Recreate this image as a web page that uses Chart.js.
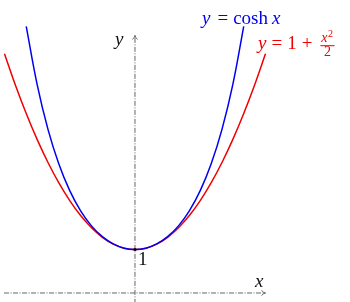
<!DOCTYPE html>
<html>
<head>
<meta charset="utf-8">
<script src="https://cdn.jsdelivr.net/npm/chart.js@4"></script>
<style>
  html, body { margin: 0; padding: 0; background: #fff; }
  #wrap { width: 350px; height: 302px; }
</style>
</head>
<body>
<div id="wrap"><canvas id="chart-cosh"></canvas></div>
<script>
  // x samples and values
  const xsCosh = [-2.5, -2.25, -2, -1.75, -1.5, -1.25, -1, -0.75, -0.5, -0.25, 0,
                  0.25, 0.5, 0.75, 1, 1.25, 1.5, 1.75, 2, 2.25, 2.5];
  const ysCosh = [6.132, 4.797, 3.762, 2.964, 2.352, 1.888, 1.543, 1.295, 1.128, 1.031, 1,
                  1.031, 1.128, 1.295, 1.543, 1.888, 2.352, 2.964, 3.762, 4.797, 6.132];

  const xsParab = [-3, -2.75, -2.5, -2.25, -2, -1.75, -1.5, -1.25, -1, -0.75, -0.5, -0.25, 0,
                   0.25, 0.5, 0.75, 1, 1.25, 1.5, 1.75, 2, 2.25, 2.5, 2.75, 3];
  const ysParab = [5.5, 4.781, 4.125, 3.531, 3, 2.531, 2.125, 1.781, 1.5, 1.281, 1.125, 1.031, 1,
                   1.031, 1.125, 1.281, 1.5, 1.781, 2.125, 2.531, 3, 3.531, 4.125, 4.781, 5.5];

  // axis extents
  const xAxisRange = [-3.01, 3.0];
  const yAxisRange = [-0.25, 5.92];

  const pts = (xs, ys) => xs.map((x, i) => ({ x, y: ys[i] }));

  const BLUE = '#0000f0';
  const RED = '#f00000';

  const axisStyle = {
    borderColor: '#555',
    borderWidth: 0.9,
    borderDash: [5, 1.5, 1, 1.5],
    pointRadius: 0,
    showLine: true,
    tension: 0
  };

  const serif = '"Liberation Serif", "DejaVu Serif", serif';

  // draws a row of pieces starting at x; a number is just extra space
  function drawRun(ctx, x, y, parts, color) {
    ctx.fillStyle = color;
    ctx.textBaseline = 'alphabetic';
    ctx.textAlign = 'left';
    for (const p of parts) {
      if (typeof p === 'number') { x += p; continue; }
      const [txt, font] = p;
      ctx.font = font;
      ctx.fillText(txt, x, y);
      x += ctx.measureText(txt).width;
    }
    return x;
  }

  function arrow(ctx, x, y, dx, dy) {
    // little open "->" head pointing along (dx, dy)
    const len = 4, half = 2.5;
    const px = -dy, py = dx;
    ctx.beginPath();
    ctx.moveTo(x - dx * len + px * half, y - dy * len + py * half);
    ctx.quadraticCurveTo(x - dx * 1.5, y - dy * 1.5, x, y);
    ctx.quadraticCurveTo(x - dx * 1.5, y - dy * 1.5, x - dx * len - px * half, y - dy * len - py * half);
    ctx.stroke();
  }

  const decorations = {
    id: 'decorations',
    afterDatasetsDraw(chart) {
      const { ctx, scales: { x: sx, y: sy } } = chart;
      ctx.save();

      // arrow heads
      ctx.strokeStyle = '#444';
      ctx.lineWidth = 0.8;
      arrow(ctx, sx.getPixelForValue(xAxisRange[1]), sy.getPixelForValue(0), 1, 0);
      arrow(ctx, sx.getPixelForValue(0), sy.getPixelForValue(yAxisRange[1]), 0, -1);

      // point (0, 1)
      ctx.fillStyle = '#000';
      ctx.beginPath();
      ctx.arc(sx.getPixelForValue(0), sy.getPixelForValue(1), 1.6, 0, Math.PI * 2);
      ctx.fill();

      const it = 'italic 19px ' + serif;
      const rm = '19px ' + serif;

      // axis labels
      drawRun(ctx, 115, 45, [['y', it]], '#111');
      drawRun(ctx, 255, 287, [['x', it]], '#111');
      drawRun(ctx, 138, 265, [['1', rm]], '#111');

      // curve labels
      drawRun(ctx, 202, 24, [['y', it], 7, ['=', rm], 5, ['cosh', rm], 4, ['x', it]], BLUE);
      let x = drawRun(ctx, 258, 49, [['y', it], 5, ['=', rm], 5, ['1', rm], 5, ['+', rm], 8], RED);
      const fi = 'italic 14px ' + serif;
      ctx.font = fi;
      const xw = ctx.measureText('x').width;
      drawRun(ctx, x + 1, 42, [['x', fi]], RED);
      drawRun(ctx, x + 1 + xw + 0.5, 37, [['2', '10px ' + serif]], RED);
      ctx.fillRect(x, 45.2, xw + 8, 1);
      drawRun(ctx, x + (xw + 8) / 2 - 3.5, 56, [['2', '14px ' + serif]], RED);

      ctx.restore();
    }
  };

  new Chart(document.getElementById('chart-cosh'), {
    type: 'scatter',
    data: {
      datasets: [
        { ...axisStyle, data: pts(xAxisRange, [0, 0]) },
        { ...axisStyle, data: pts([0, 0], yAxisRange) },
        {
          label: 'cosh',
          data: pts(xsCosh, ysCosh),
          borderColor: BLUE,
          borderWidth: 1.5,
          pointRadius: 0,
          showLine: true,
          tension: 0.4
        },
        {
          label: 'parabola',
          data: pts(xsParab, ysParab),
          borderColor: RED,
          borderWidth: 1.5,
          pointRadius: 0,
          showLine: true,
          tension: 0.4
        }
      ]
    },
    options: {
      responsive: true,
      maintainAspectRatio: false,
      animation: false,
      layout: { padding: 0 },
      plugins: { legend: { display: false }, tooltip: { enabled: false } },
      scales: {
        x: { type: 'linear', min: -3.103, max: 4.943, display: false },
        y: { type: 'linear', min: -0.207, max: 6.736, display: false }
      }
    },
    plugins: [decorations]
  });
</script>
</body>
</html>
